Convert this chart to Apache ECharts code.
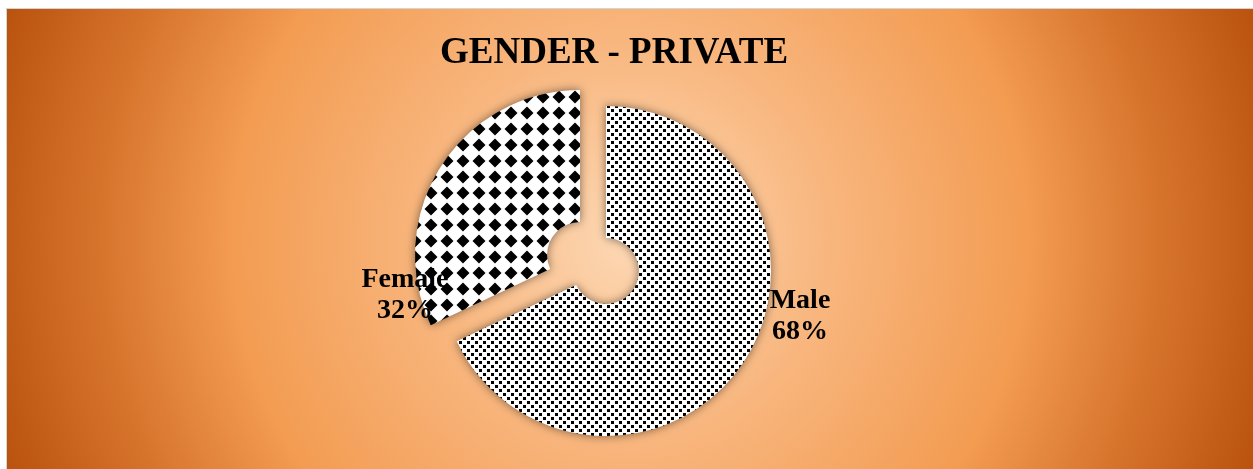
<!DOCTYPE html>
<html>
<head>
<meta charset="utf-8">
<script src="https://cdn.jsdelivr.net/npm/echarts@6/dist/echarts.min.js"></script>
<style>
html, body { margin: 0; padding: 0; background: #ffffff; }
#main {
  position: absolute;
  left: 6px;
  top: 8px;
  width: 1246px;
  height: 460px;
  border-top: 1px solid #d4d4d4;
  border-left: 1px solid #d4d4d4;
}
</style>
</head>
<body>
<div id="main"></div>
<script>
var titleText = 'GENDER - PRIVATE';
var categories = ['Male', 'Female'];
var shares = [68, 32];

// fill patterns (small confetti for Male, diamonds for Female)
function confetti() {
  var c = document.createElement('canvas');
  c.width = 8; c.height = 8;
  var g = c.getContext('2d');
  g.fillStyle = '#fff'; g.fillRect(0, 0, 8, 8);
  g.fillStyle = '#000';
  g.fillRect(0, 0, 3, 3);
  g.fillRect(4, 4, 3, 3);
  return c;
}
function diamonds() {
  var c = document.createElement('canvas');
  c.width = 16; c.height = 16;
  var g = c.getContext('2d');
  g.fillStyle = '#fff'; g.fillRect(0, 0, 16, 16);
  g.fillStyle = '#000';
  g.beginPath();
  g.moveTo(8, 1.5); g.lineTo(14.5, 8); g.lineTo(8, 14.5); g.lineTo(1.5, 8);
  g.closePath(); g.fill();
  return c;
}
var fills = [confetti(), diamonds()];

// exploded slices: each slice gets its own pie, shifted along its bisector
var centers = [[599, 262], [573, 246]];
var labelPos = [[793, 307], [398, 286]];

function slicePie(k) {
  return {
    type: 'pie',
    center: centers[k],
    radius: [33, 165],
    startAngle: 90,
    silent: true,
    emphasis: { disabled: true },
    label: {
      position: 'outside',
      formatter: '{b}\n{d}%',
      fontFamily: 'Liberation Serif',
      fontWeight: 'bold',
      fontSize: 28,
      lineHeight: 31,
      color: '#000',
      align: 'center'
    },
    labelLine: { show: false },
    labelLayout: function () {
      return { x: labelPos[k][0], y: labelPos[k][1], align: 'center', verticalAlign: 'middle' };
    },
    data: categories.map(function (name, i) {
      return {
        name: name,
        value: shares[i],
        label: { show: i === k },
        itemStyle: {
          color: i === k ? { image: fills[i], repeat: 'repeat' } : 'rgba(0,0,0,0)',
          shadowBlur: i === k ? 10 : 0,
          shadowColor: 'rgba(0,0,0,0.5)'
        }
      };
    })
  };
}

var chart = echarts.init(document.getElementById('main'));
chart.setOption({
  animation: false,
  backgroundColor: {
    type: 'radial', x: 0.5, y: 0.5, r: 1.44,
    colorStops: [
      { offset: 0, color: '#fdd8b4' },
      { offset: 0.3, color: '#f8b67e' },
      { offset: 0.6, color: '#f39c52' },
      { offset: 0.8, color: '#d7742c' },
      { offset: 1, color: '#b9530e' }
    ]
  },
  title: {
    text: titleText,
    left: 428,
    top: 21,
    textStyle: {
      fontFamily: 'Liberation Serif',
      fontWeight: 'bold',
      fontSize: 37,
      color: '#000'
    }
  },
  series: [slicePie(0), slicePie(1)]
});
</script>
</body>
</html>
